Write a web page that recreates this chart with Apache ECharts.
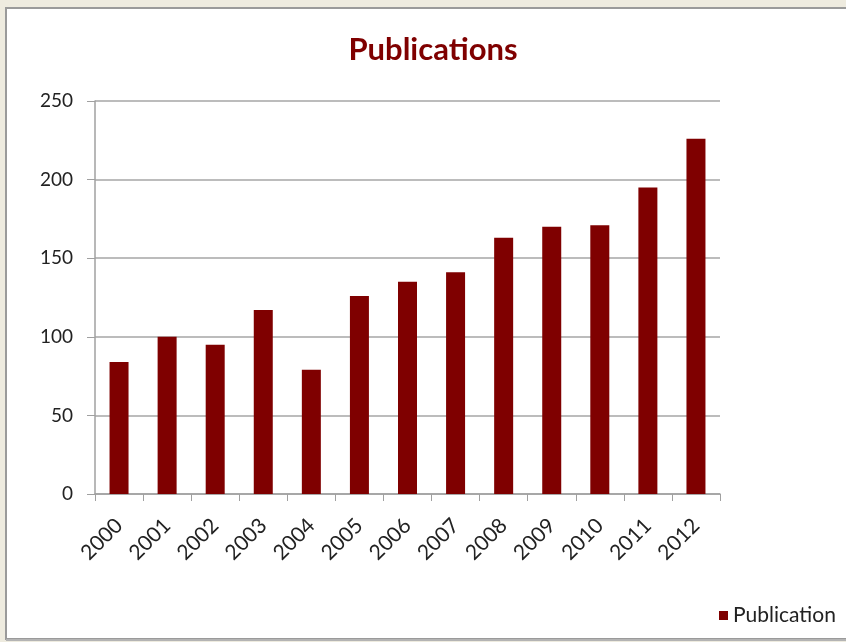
<!DOCTYPE html>
<html>
<head>
<meta charset="utf-8">
<style>
html, body { margin: 0; padding: 0; background: #eeebdf; }
#chart { width: 846px; height: 642px; }
</style>
<script src="https://cdn.jsdelivr.net/npm/echarts@6/dist/echarts.min.js"></script>
</head>
<body>
<div id="chart"></div>
<script>
var years = ['2000', '2001', '2002', '2003', '2004', '2005', '2006',
  '2007', '2008', '2009', '2010', '2011', '2012']
var publications = [84, 100, 95, 117, 79, 126, 135, 141, 163, 170, 171, 195, 226]
var yTicks = [0, 50, 100, 150, 200, 250]

var chart = echarts.init(document.getElementById('chart'))
chart.setOption({
  backgroundColor: '#eeebdf',
  animation: false,
  graphic: [{
    type: 'rect',
    z: -10,
    shape: { x: 6, y: 8, width: 845, height: 631 },
    style: { fill: '#fff', stroke: '#9a9a9a', lineWidth: 2 }
  }, {
    type: 'line',
    z: 101,
    shape: { x1: 6, y1: 640, x2: 846, y2: 640 },
    style: { stroke: '#b4b4b4', lineWidth: 2 }
  }],
  title: {
    text: 'Publications',
    left: 428,
    textAlign: 'center',
    top: 29,
    textStyle: {
      fontFamily: 'Lato',
      fontWeight: 'bold',
      fontSize: 31,
      color: '#7f0000'
    }
  },
  legend: {
    left: 714,
    top: 600,
    itemWidth: 9,
    itemHeight: 9,
    itemGap: 6,
    icon: 'rect',
    formatter: function () { return 'Publication' },
    textStyle: { fontFamily: 'Lato', fontSize: 21, color: '#222' },
    data: ['Publications']
  },
  grid: {
    left: 95,
    right: 126,
    top: 101,
    bottom: 148
  },
  xAxis: {
    type: 'category',
    data: years,
    axisLine: { lineStyle: { color: '#a0a0a0', width: 1.5 } },
    axisTick: { show: true, length: 7, lineStyle: { color: '#a0a0a0' } },
    axisLabel: {
      rotate: 45,
      margin: 28,
      fontFamily: 'Lato',
      fontSize: 21,
      color: '#222'
    }
  },
  yAxis: {
    type: 'value',
    min: yTicks[0],
    max: yTicks[yTicks.length - 1],
    interval: 50,
    axisLine: { show: true, lineStyle: { color: '#a0a0a0', width: 1.5 } },
    axisTick: { show: true, length: 8, lineStyle: { color: '#a0a0a0' } },
    splitLine: { lineStyle: { color: '#a6a6a6', width: 1.5 } },
    axisLabel: {
      margin: 22,
      fontFamily: 'Lato',
      fontSize: 19,
      color: '#222'
    }
  },
  series: [{
    name: 'Publications',
    type: 'bar',
    data: publications,
    barWidth: 19,
    itemStyle: { color: '#7f0000' }
  }]
})
</script>
</body>
</html>
